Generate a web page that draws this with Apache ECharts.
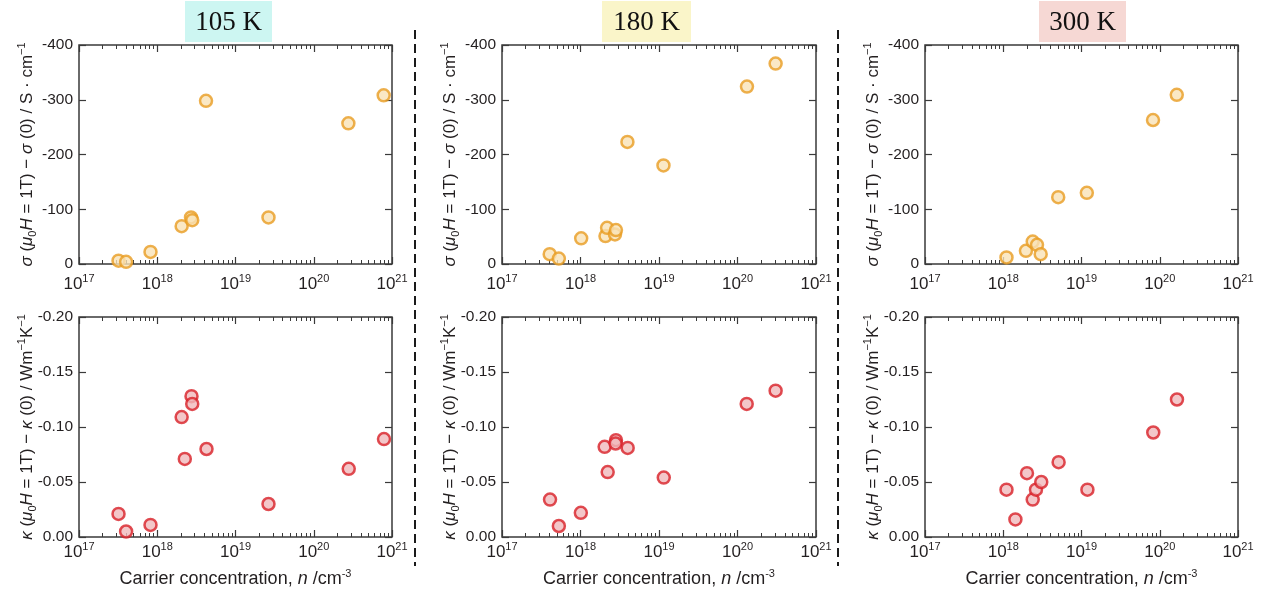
<!DOCTYPE html>
<html>
<head>
<meta charset="utf-8">
<script src="https://cdn.jsdelivr.net/npm/echarts@6/dist/echarts.min.js"></script>
<style>
  html, body { margin: 0; padding: 0; background: #fff; }
  #main { width: 1261px; height: 590px; }
</style>
</head>
<body>
<div id="main"></div>
<script>
// carrier concentration (cm^-3) and magneto-response
const n105Sigma = [3.2e17, 4.0e17, 8.2e17, 2.05e18, 2.7e18, 2.8e18, 4.2e18, 2.64e19, 2.77e20, 7.83e20];
const sigma105 = [-6, -4, -22, -69, -85, -80, -298, -85, -257, -308];
const n105Kappa = [3.2e17, 4.0e17, 8.2e17, 2.05e18, 2.25e18, 2.74e18, 2.8e18, 4.26e18, 2.64e19, 2.8e20, 7.9e20];
const kappa105 = [-0.021, -0.005, -0.011, -0.109, -0.071, -0.128, -0.121, -0.080, -0.030, -0.062, -0.089];

const n180Sigma = [4.05e17, 5.3e17, 1.02e18, 2.08e18, 2.18e18, 2.75e18, 2.83e18, 3.96e18, 1.14e19, 1.32e20, 3.06e20];
const sigma180 = [-18, -10, -47, -51, -66, -54, -62, -223, -180, -324, -366];
const n180Kappa = [4.09e17, 5.3e17, 1.01e18, 2.03e18, 2.22e18, 2.83e18, 2.8e18, 3.99e18, 1.15e19, 1.31e20, 3.06e20];
const kappa180 = [-0.034, -0.010, -0.022, -0.082, -0.059, -0.088, -0.085, -0.081, -0.054, -0.121, -0.133];

const n300Sigma = [1.10e18, 1.95e18, 2.38e18, 2.7e18, 3.01e18, 5.04e18, 1.17e19, 8.2e19, 1.65e20];
const sigma300 = [-12, -24, -41, -35, -18, -122, -130, -263, -309];
const n300Kappa = [1.10e18, 1.43e18, 2.01e18, 2.38e18, 2.62e18, 3.06e18, 5.1e18, 1.19e19, 8.26e19, 1.66e20];
const kappa300 = [-0.043, -0.016, -0.058, -0.034, -0.043, -0.050, -0.068, -0.043, -0.095, -0.125];

const temps = ['105 K', '180 K', '300 K'];
// last decade nudged below 1e21 so float rounding in the log scale doesn't drop it
const decades = [1e17, 1e18, 1e19, 1e20, 0.9999999e21];
const sigmaTicks = [-400, -300, -200, -100, 0];
const kappaTicks = [-0.20, -0.15, -0.10, -0.05, 0];

// minor ticks at 2..9 x 10^k
const minors = [];
for (let e = 17; e < 21; e++) {
    for (let k = 2; k <= 9; k++) minors.push(k * Math.pow(10, e));
}

const sans = '"Liberation Sans", Arial, sans-serif';
const ink = '#231f20';
const frame = '#3a3a3a';

const lefts = [79, 502, 925];
const widths = [313, 314, 313];
const tops = [45, 317];
const heights = [219, 220];

const grids = [];
for (let r = 0; r < 2; r++) {
    for (let c = 0; c < 3; c++) {
        grids.push({
            left: lefts[c], top: tops[r], width: widths[c], height: heights[r],
            show: true, borderColor: frame, borderWidth: 1.5, backgroundColor: 'transparent'
        });
    }
}

const richLabel = {
    b: { fontSize: 17, fontFamily: sans, color: ink, lineHeight: 22 },
    s: { fontSize: 11, fontFamily: sans, color: ink, lineHeight: 11, verticalAlign: 'top' }
};
const richName = {
    i: { fontSize: 17, fontFamily: sans, color: ink, fontStyle: 'italic', lineHeight: 22 },
    sub: { fontSize: 11, fontFamily: sans, color: ink, lineHeight: 10, verticalAlign: 'bottom' },
    sup: { fontSize: 11, fontFamily: sans, color: ink, lineHeight: 11, verticalAlign: 'top' }
};

const xAxes = [];
const yAxes = [];
grids.forEach(function (g, gi) {
    const bottomRow = gi >= 3;
    const base = {
        type: 'log', logBase: 10, gridIndex: gi, min: 1e17, max: 1e21,
        axisLine: { show: false }, splitLine: { show: false }
    };
    xAxes.push(Object.assign({}, base, {
        position: 'bottom',
        axisTick: { inside: true, length: 7, customValues: decades, lineStyle: { color: frame, width: 1.2 } },
        axisLabel: {
            customValues: decades, margin: bottomRow ? 4 : 9, hideOverlap: false,
            formatter: function (v) { return '{b|10}{s|' + Math.round(Math.log10(v)) + '}'; },
            rich: richLabel
        },
        name: bottomRow ? 'Carrier concentration, {i|n} /cm{sup|-3}' : '',
        nameLocation: 'middle', nameGap: 31,
        nameTextStyle: { fontSize: 18, fontFamily: sans, color: ink, rich: {
            i: { fontSize: 18, fontFamily: sans, color: ink, fontStyle: 'italic', lineHeight: 22 },
            sup: { fontSize: 11, fontFamily: sans, color: ink, lineHeight: 11, verticalAlign: 'top' }
        } }
    }));
    xAxes.push(Object.assign({}, base, {
        position: 'bottom',
        axisTick: { inside: true, length: 4, customValues: minors, lineStyle: { color: frame, width: 1 } },
        axisLabel: { show: false }
    }));
    xAxes.push(Object.assign({}, base, {
        position: 'top',
        axisTick: { inside: true, length: 7, customValues: decades, lineStyle: { color: frame, width: 1.2 } },
        axisLabel: { show: false }
    }));
    xAxes.push(Object.assign({}, base, {
        position: 'top',
        axisTick: { inside: true, length: 4, customValues: minors, lineStyle: { color: frame, width: 1 } },
        axisLabel: { show: false }
    }));

    const ticks = bottomRow ? kappaTicks : sigmaTicks;
    const yBase = {
        type: 'value', gridIndex: gi, inverse: true,
        min: ticks[0], max: 0, interval: bottomRow ? 0.05 : 100,
        axisLine: { show: false }, splitLine: { show: false },
        axisTick: { inside: true, length: 7, lineStyle: { color: frame, width: 1.2 } }
    };
    yAxes.push(Object.assign({}, yBase, {
        position: 'left',
        axisLabel: {
            margin: 6, fontSize: 15.5, fontFamily: sans, color: ink,
            formatter: function (v) { return bottomRow ? (Math.abs(v) < 1e-9 ? '0.00' : v.toFixed(2)) : String(Math.round(v)); }
        },
        name: bottomRow
            ? '{i|κ} ({i|μ}{sub|0}{i|H} = 1T) − {i|κ} (0) / Wm{sup|−1}K{sup|−1}'
            : '{i|σ} ({i|μ}{sub|0}{i|H} = 1T) − {i|σ} (0) / S · cm{sup|−1}',
        nameLocation: 'middle', nameRotate: 90, nameGap: 41, nameMoveOverlap: false,
        nameTextStyle: { fontSize: 17, fontFamily: sans, color: ink, rich: richName }
    }));
    yAxes.push(Object.assign({}, yBase, {
        position: 'right',
        axisLabel: { show: false }
    }));
});

const orange = { color: '#f9e2b6', borderColor: '#e99c22', borderWidth: 2.5 };
const red = { color: '#f0b9bb', borderColor: '#d81f27', borderWidth: 2.5 };

const panels = [
    [n105Sigma, sigma105, orange], [n180Sigma, sigma180, orange], [n300Sigma, sigma300, orange],
    [n105Kappa, kappa105, red], [n180Kappa, kappa180, red], [n300Kappa, kappa300, red]
];

const series = panels.map(function (p, gi) {
    return {
        type: 'scatter',
        xAxisIndex: gi * 4,
        yAxisIndex: gi * 2,
        symbol: 'circle',
        symbolSize: 12,
        itemStyle: p[2],
        data: p[0].map(function (x, i) { return [x, p[1][i]]; })
    };
});

const boxes = [
    { x: 185, w: 87, fill: '#cdf6f2' },
    { x: 602, w: 89, fill: '#faf5c9' },
    { x: 1039, w: 87, fill: '#f6d8d4' }
];
const graphic = [];
boxes.forEach(function (b, i) {
    graphic.push({ type: 'rect', shape: { x: b.x, y: 1, width: b.w, height: 41 }, style: { fill: b.fill }, z: 1 });
    graphic.push({
        type: 'text', x: b.x + b.w / 2, y: 23, z: 2,
        style: { text: temps[i], font: '27px "Liberation Serif", "Times New Roman", serif', fill: '#111', align: 'center', verticalAlign: 'middle' }
    });
});
[415, 838].forEach(function (x) {
    graphic.push({
        type: 'line', shape: { x1: x, y1: 30, x2: x, y2: 566 },
        style: { stroke: '#1a1a1a', lineWidth: 2, lineDash: [9, 5] }
    });
});

const chart = echarts.init(document.getElementById('main'));
chart.setOption({
    animation: false,
    backgroundColor: '#fff',
    grid: grids,
    xAxis: xAxes,
    yAxis: yAxes,
    series: series,
    graphic: graphic
});
</script>
</body>
</html>
